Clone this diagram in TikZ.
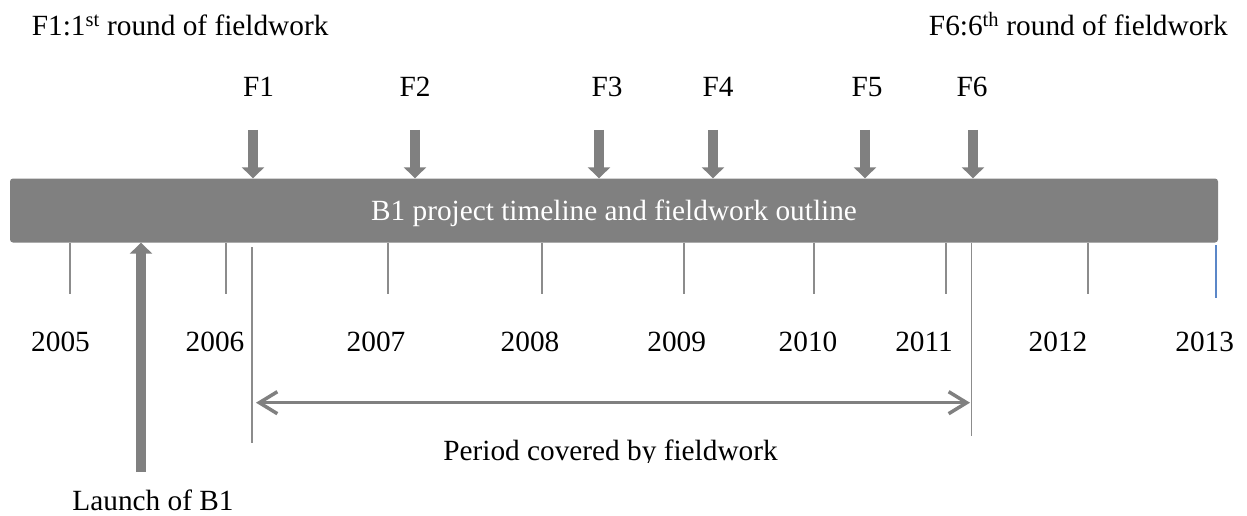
\documentclass[tikz,border=0pt]{standalone}
\usepackage{fontspec}
\setmainfont{Liberation Serif}
\usetikzlibrary{arrows.meta}
\definecolor{barg}{RGB}{128,128,128}
\definecolor{tickg}{RGB}{140,140,140}
\definecolor{tickb}{RGB}{91,135,200}
\begin{document}
\begin{tikzpicture}[x=1pt,y=-1pt,
  lbl/.style={inner sep=0pt, font=\fontsize{29.3}{35}\selectfont},
  blockarrow/.style={draw=barg, line width=10pt, -{Triangle[length=11pt,width=22pt]}},
  tickline/.style={draw=tickg, line width=1.8pt},
  spanline/.style={draw=tickg, line width=1.5pt},
  spanarrow/.style={draw=barg, line width=3.5pt, {Straight Barb[length=18pt,width=22pt]}-{Straight Barb[length=18pt,width=22pt]}}]
\useasboundingbox (0,0) rectangle (1247,516);

% legend texts
\node[lbl, anchor=base west] (k1) at (31.7,36) {F1:1\textsuperscript{st} round of fieldwork};
\node[lbl, anchor=base east] (k6) at (1228,36) {F6:6\textsuperscript{th} round of fieldwork};

% bar
\node[lbl, fill=barg, rounded corners=3pt, minimum width=1208pt, minimum height=64pt,
      text=white, text height=20pt, text depth=0pt] (bar) at (614,210.5)
      {B1 project timeline and fieldwork outline};

% fieldwork rounds
\foreach \n/\tx/\ax in {1/258.5/253, 2/415/415, 3/607/599, 4/718/713, 5/867/865, 6/972/973}{
  \node[lbl, anchor=base] (F\n) at (\tx,96.7) {F\n};
  \coordinate (a\n) at (\ax,130);
  \draw[blockarrow] (a\n) -- (a\n |- bar.north);
}

% year ticks
\foreach \x in {70,226,388,542,684,814,946,1088}{
  \draw[tickline] (\x,243) -- (\x,294);
}
\draw[draw=tickb, line width=1.8pt] (1216,245) -- (1216,298);

% years
\foreach \y/\x in {2005/60.5, 2006/215, 2007/376, 2008/530, 2009/676.7, 2010/808, 2011/924, 2012/1058, 2013/1204.7}{
  \node[lbl, anchor=base] (y\y) at (\x,351.7) {\y};
}

% period covered by fieldwork
\coordinate (s1) at (252,247);
\coordinate (s1e) at (252,443);
\coordinate (s2) at (971.5,243);
\coordinate (s2e) at (971.5,436);
\draw[spanline] (s1) -- (s1e);
\draw[spanline] (s2) -- (s2e);
\coordinate (pL) at (256,402.7);
\coordinate (pR) at (970,402.7);
\draw[spanarrow] (pL) -- (pR);
\begin{scope}
  \clip (400,420) rectangle (820,462);
  \node[lbl, anchor=base] (period) at (610.5,460) {Period covered by fieldwork};
\end{scope}

% launch
\node[lbl, anchor=base] (launch) at (153,510) {Launch of B1};
\coordinate (l0) at (141,472);
\draw[blockarrow] (l0) -- (l0 |- bar.south);
\end{tikzpicture}
\end{document}
